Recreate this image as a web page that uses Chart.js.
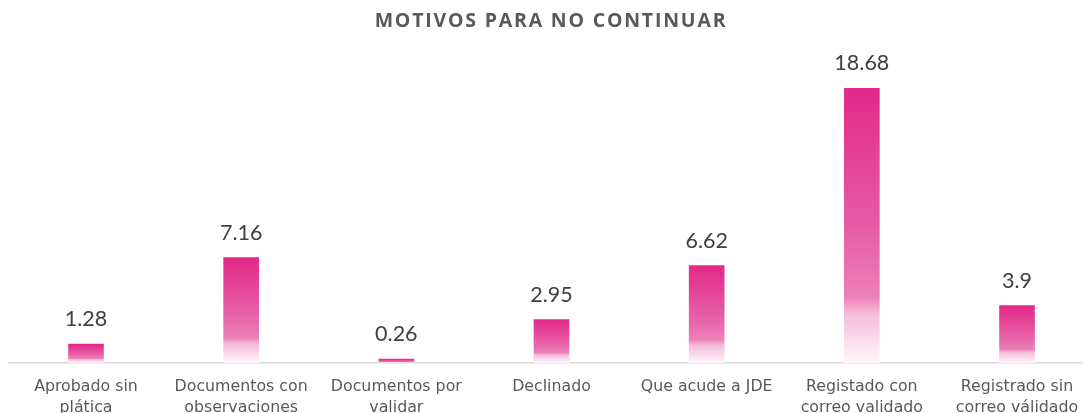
<!DOCTYPE html>
<html>
<head>
<meta charset="utf-8">
<script src="https://cdn.jsdelivr.net/npm/chart.js@4/dist/chart.umd.min.js"></script>
<style>
  html, body { margin: 0; padding: 0; background: #fff; overflow: hidden; }
  .chart-box { width: 1103px; height: 432px; }
</style>
</head>
<body>
<div class="chart-box"><canvas id="motivos"></canvas></div>
<script>
const categories = [
    ['Aprobado sin', 'plática'],
    ['Documentos con', 'observaciones'],
    ['Documentos por', 'validar'],
    ['Declinado'],
    ['Que acude a JDE'],
    ['Registado con', 'correo validado'],
    ['Registrado sin', 'correo válidado']
];
const porcentajes = [1.28, 7.16, 0.26, 2.95, 6.62, 18.68, 3.9];
const chartTitle = 'MOTIVOS PARA NO CONTINUAR';

// degradado rosa -> blanco, uno por barra
function barGradient(context) {
    const chart = context.chart;
    const area = chart.chartArea;
    if (!area || context.dataIndex === undefined) return '#E3288B';
    const yScale = chart.scales.y;
    const top = yScale.getPixelForValue(context.raw);
    const base = yScale.getPixelForValue(0);
    if (!isFinite(top) || base - top < 1) return '#E3288B';
    const g = chart.ctx.createLinearGradient(0, top, 0, base);
    g.addColorStop(0, '#E2288A');
    g.addColorStop(0.5, '#E75CA4');
    g.addColorStop(0.76, '#EC80B8');
    g.addColorStop(0.82, '#F4BCD8');
    g.addColorStop(1, '#FFF7FB');
    return g;
}

// titulo con espaciado entre letras
const spacedTitle = {
    id: 'spacedTitle',
    afterDraw(chart) {
        const ctx = chart.ctx;
        ctx.save();
        ctx.font = 'bold 19.5px "Open Sans"';
        ctx.letterSpacing = '1.8px';
        ctx.fillStyle = '#595959';
        ctx.textAlign = 'center';
        ctx.textBaseline = 'middle';
        ctx.fillText(chartTitle, 551, 21);
        ctx.restore();
    }
};

const valueLabels = {
    id: 'valueLabels',
    afterDatasetsDraw(chart) {
        const ctx = chart.ctx;
        const meta = chart.getDatasetMeta(0);
        ctx.save();
        ctx.font = '21.5px Lato';
        ctx.fillStyle = '#404040';
        ctx.textAlign = 'center';
        ctx.textBaseline = 'alphabetic';
        meta.data.forEach((bar, i) => {
            ctx.fillText(String(porcentajes[i]), bar.x, bar.y - 18);
        });
        ctx.restore();
    }
};

const myChart = new Chart(document.getElementById('motivos'), {
    type: 'bar',
    data: {
        labels: categories,
        datasets: [{
            label: chartTitle,
            data: porcentajes,
            backgroundColor: barGradient,
            borderWidth: 0,
            barThickness: 35
        }]
    },
    options: {
        responsive: true,
        maintainAspectRatio: false,
        animation: false,
        layout: { padding: { left: 8.4, right: 8.4, top: 69, bottom: 0 } },
        plugins: {
            legend: { display: false },
            tooltip: { enabled: false },
            title: { display: false }
        },
        scales: {
            x: {
                grid: { display: false, drawTicks: false },
                border: { display: true, color: '#D9D9D9', width: 1.5 },
                ticks: {
                    color: '#595959',
                    padding: 14,
                    maxRotation: 0,
                    autoSkip: false,
                    font: { family: 'DejaVu Sans', size: 15.8, lineHeight: 1.3 }
                }
            },
            y: {
                display: false,
                min: 0,
                max: 20
            }
        }
    },
    plugins: [valueLabels, spacedTitle]
});
</script>
</body>
</html>
